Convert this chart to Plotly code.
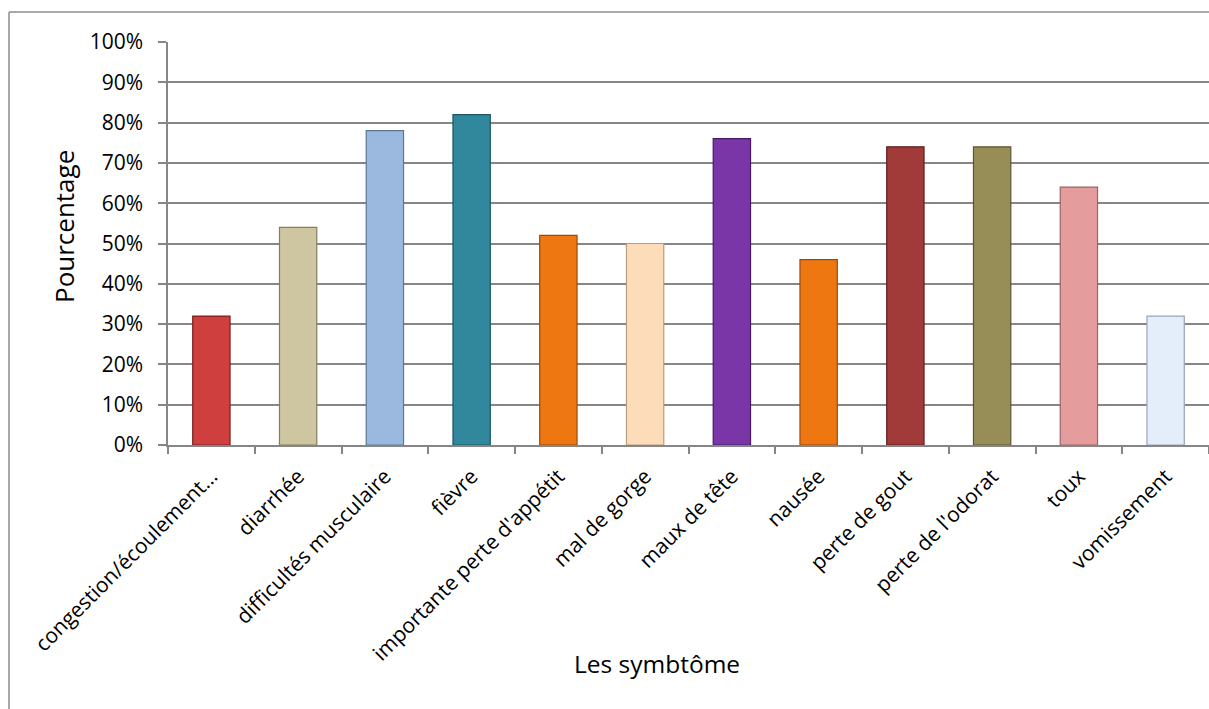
import plotly.graph_objects as go

categories = ["congestion/écoulement…", "diarrhée", "difficultés musculaire", "fièvre",
              "importante perte d'appétit", "mal de gorge", "maux de tête", "nausée",
              "perte de gout", "perte de l'odorat", "toux", "vomissement"]
values = [0.32, 0.54, 0.78, 0.82, 0.52, 0.50, 0.76, 0.46, 0.74, 0.74, 0.64, 0.32]
fill_colors = ["#CF3F3E", "#CDC6A0", "#9BB9DF", "#31889D", "#EF7712", "#FDDCB9",
               "#7A36A6", "#EF7712", "#A03B39", "#978D56", "#E49C9C", "#E4EEFA"]
edge_colors = ["#7A1E1E", "#857E58", "#5A7699", "#1C5563", "#9A4A08", "#B89C7C",
               "#45186A", "#9A4A08", "#5E1E1D", "#5C5530", "#9C6464", "#96A4B8"]
y_ticks = [0, 0.1, 0.2, 0.3, 0.4, 0.5, 0.6, 0.7, 0.8, 0.9, 1.0]

fig = go.Figure(go.Bar(
    x=categories, y=values,
    marker=dict(color=fill_colors, line=dict(color=edge_colors, width=1.2)),
    width=0.43,
))

font_family = "Open Sans, Lato, sans-serif"

# plot area in pixels: x 168..1209, y 42..445
L, R, T, B = 168, 1209, 42, 445
W, H = R - L, B - T

fig.update_layout(
    width=1209, height=709,
    margin=dict(l=L, r=1209 - R, t=T, b=709 - B),
    paper_bgcolor="white", plot_bgcolor="white",
    showlegend=False,
    font=dict(family=font_family, color="black", size=20),
    xaxis=dict(
        range=[-0.5, 11.5],
        tickangle=-45,
        tickson="boundaries",
        ticks="outside", ticklen=7, tickcolor="#868686", tickwidth=1.5,
        showline=True, linecolor="#868686", linewidth=1.5,
        showgrid=False,
        tickfont=dict(size=21, family=font_family),
        ticklabelstandoff=9,
    ),
    yaxis=dict(
        range=[0, 1.0],
        tickvals=y_ticks,
        tickformat=".0%",
        ticks="outside", ticklen=8, tickcolor="#868686", tickwidth=1.5,
        showline=True, linecolor="#868686", linewidth=1.5,
        showgrid=True, gridcolor="#868686", gridwidth=1.5,
        zeroline=False,
        tickfont=dict(size=21, family=font_family),
        ticklabelstandoff=11,
    ),
    bargap=0.57,
)

# axis titles
fig.add_annotation(text="Pourcentage", xref="paper", yref="paper",
                   x=(64 - L) / W, y=(B - 227) / H, textangle=-90,
                   showarrow=False, xanchor="center", yanchor="middle",
                   font=dict(size=26, family=font_family, color="black"))
fig.add_annotation(text="Les symbtôme", xref="paper", yref="paper",
                   x=(657 - L) / W, y=(B - 663) / H,
                   showarrow=False, xanchor="center", yanchor="middle",
                   font=dict(size=24.5, family=font_family, color="black"))

# outer chart frame (left and top edges visible in the reference)
fx = (9 - L) / W
fy = (B - 12) / H
fig.add_shape(type="line", xref="paper", yref="paper",
              x0=fx, x1=1.02, y0=fy, y1=fy,
              line=dict(color="#8C8C8C", width=1.5))
fig.add_shape(type="line", xref="paper", yref="paper",
              x0=fx, x1=fx, y0=fy, y1=(B - 720) / H,
              line=dict(color="#8C8C8C", width=1.5))

fig.write_html("out.html")
